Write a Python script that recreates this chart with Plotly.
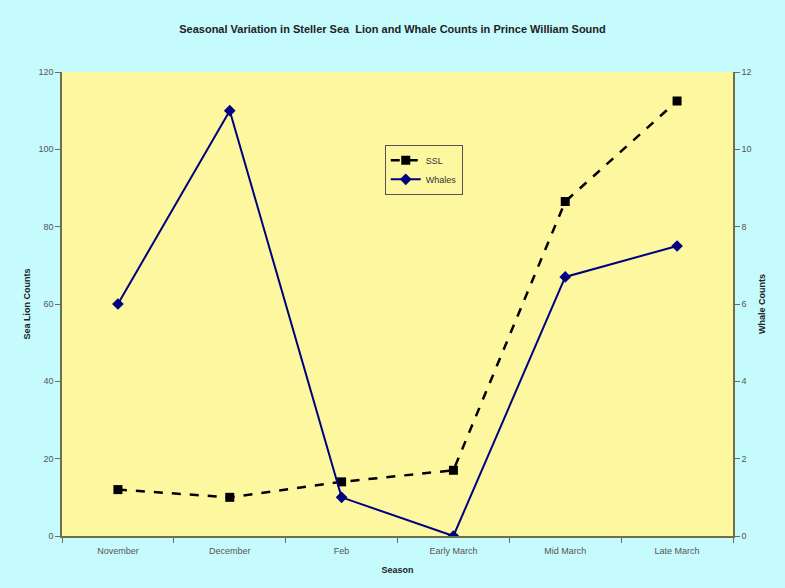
import plotly.graph_objects as go

seasons = ["November", "December", "Feb", "Early March", "Mid March", "Late March"]
ssl_counts = [12, 10, 14, 17, 86.5, 112.5]
whale_counts = [6, 11, 1, 0, 6.7, 7.5]

font_family = "Liberation Sans, Arial, sans-serif"
axis_col = "#6e6e50"
tick_font = dict(family=font_family, size=9, color="#555555")
title_font = dict(family=font_family, size=9, color="#222222")

fig = go.Figure()

fig.add_trace(go.Scatter(
    x=seasons, y=ssl_counts, name="SSL", mode="lines+markers",
    line=dict(color="black", width=2.5, dash="dash"),
    marker=dict(symbol="square", size=9, color="black"),
    yaxis="y",
))
fig.add_trace(go.Scatter(
    x=seasons, y=whale_counts, name="Whales", mode="lines+markers",
    line=dict(color="#000080", width=2),
    marker=dict(symbol="diamond", size=9, color="#000080"),
    yaxis="y2",
))

fig.update_layout(
    width=785, height=588,
    margin=dict(l=62, r=52, t=72, b=52),
    paper_bgcolor="#c6fbfd",
    plot_bgcolor="#fdf7a0",
    title=dict(
        text="<b>Seasonal Variation in Steller Sea  Lion and Whale Counts in Prince William Sound</b>",
        font=dict(family=font_family, size=11, color="#222222"),
        x=0.5, xanchor="center", y=0.951, yanchor="middle",
    ),
    showlegend=True,
    legend=dict(
        x=0.481, y=0.843, xanchor="left", yanchor="top",
        bgcolor="#fdf7a0", bordercolor="#555555", borderwidth=1,
        font=dict(family=font_family, size=9, color="#333333"),
        tracegroupgap=0, itemwidth=30,
    ),
    xaxis=dict(
        type="category", tickson="boundaries", range=[-0.5, 5.5],
        showline=True, linecolor=axis_col, linewidth=1.5, mirror=False,
        ticks="outside", ticklen=5, tickcolor=axis_col,
        ticklabelstandoff=5,
        showgrid=False, zeroline=False,
        tickfont=tick_font,
        title=dict(text="<b>Season</b>", font=title_font, standoff=12),
    ),
    yaxis=dict(
        range=[0, 120], dtick=20,
        showline=True, linecolor=axis_col, linewidth=1.5,
        ticks="outside", ticklen=5, tickcolor=axis_col,
        showgrid=False, zeroline=False,
        tickfont=tick_font,
        title=dict(text="<b>Sea Lion Counts</b>", font=title_font, standoff=6),
    ),
    yaxis2=dict(
        range=[0, 12], dtick=2, overlaying="y", side="right",
        showline=True, linecolor=axis_col, linewidth=1.5,
        ticks="outside", ticklen=5, tickcolor=axis_col,
        showgrid=False, zeroline=False,
        tickfont=tick_font,
        title=dict(text="<b>Whale Counts</b>", font=title_font, standoff=8),
    ),
)

fig.write_html("out.html")
